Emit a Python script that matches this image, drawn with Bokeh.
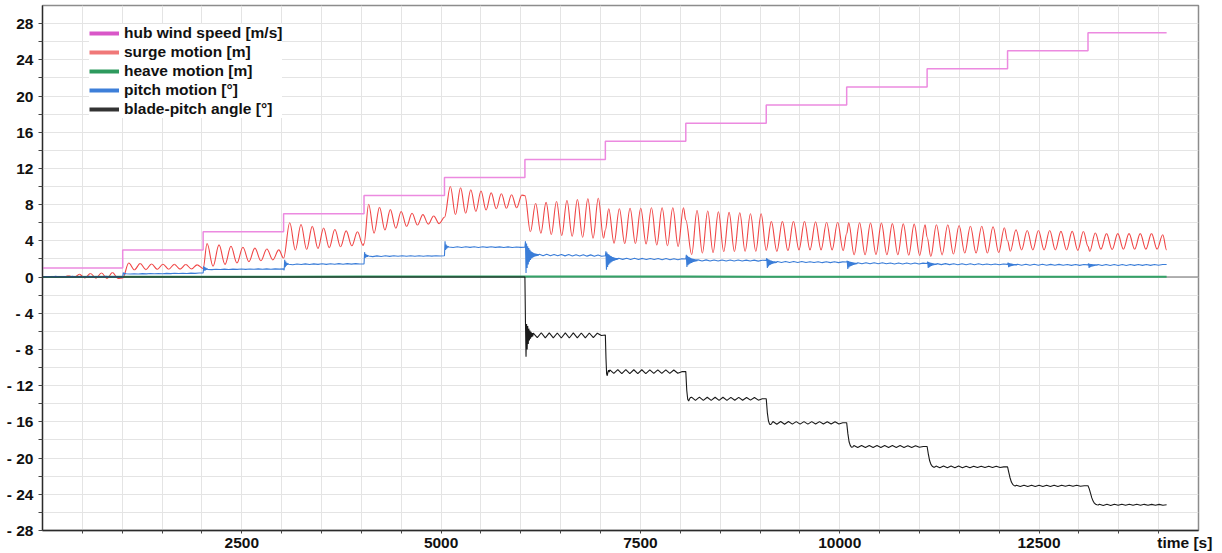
from bokeh.plotting import figure
from bokeh.models import Range1d, FixedTicker, Legend, LegendItem, Span
from bokeh.embed import file_html
from bokeh.resources import INLINE

# ---------------------------------------------------------------- data
# start time of each wind step [s] and the hub-height wind speed held in it
step_start = [0, 1006, 2015, 3024, 4033, 5042, 6051, 7060, 8069, 9078,
              10087, 11096, 12105, 13114]
t_final = 14100
hub_wind = [1, 3, 5, 7, 9, 11, 13, 15, 17, 19, 21, 23, 25, 27]

# heave motion [m], one value per wind step (practically zero)
heave = [0.0, 0.02, 0.03, 0.04, 0.05, 0.06, 0.06, 0.05, 0.05, 0.04,
         0.04, 0.04, 0.03, 0.03]

# surge motion [m]: value at the step, time of the first swing extreme,
# half swing period and the successive swing extremes in each step
surge_at_step = [0.0, -0.1, 0.95, 2.1, 3.7, 6.6, 9.0, 5.2, 6.3, 2.95,
                 4.8, 4.4, 4.0, 3.4]
surge_first = [188, 1082, 2064, 3101, 4091, 5116, 6120, 7102, 8143, 9142,
               10112, 11142, 12140, 13135]
surge_half = [69, 71.5, 75, 70.8, 68, 64, 65.5, 67, 67, 69.3,
              68.5, 71, 70.5, 70.5]
surge_swings = [
    [0.02, -0.03, 0.15, -0.05, 0.3, -0.1, 0.4, -0.12, 0.45, -0.15, 0.5, -0.15],
    [1.55, 0.8, 1.5, 0.82, 1.45, 0.85, 1.42, 0.87, 1.4, 0.88, 1.38, 0.9, 1.35],
    [3.7, 1.2, 3.55, 1.4, 3.4, 1.55, 3.3, 1.7, 3.2, 1.8, 3.1, 1.9, 3.0],
    [6.0, 3.0, 5.8, 3.05, 5.6, 3.15, 5.4, 3.25, 5.25, 3.35, 5.1, 3.45, 5.0, 3.5],
    [8.05, 4.85, 7.7, 5.2, 7.45, 5.4, 7.25, 5.6, 7.05, 5.75, 6.9, 5.85, 6.75, 5.9],
    [10.0, 6.9, 9.85, 7.05, 9.65, 7.25, 9.5, 7.4, 9.3, 7.55, 9.2, 7.6, 9.1, 7.65, 9.05],
    [5.0, 8.15, 4.85, 8.25, 4.7, 8.35, 4.6, 8.45, 4.5, 8.55, 4.4, 8.65, 4.3, 8.7, 4.3],
    [7.55, 3.75, 7.55, 3.7, 7.6, 3.7, 7.6, 3.65, 7.65, 3.55, 7.65, 3.45, 7.65, 3.38, 7.65],
    [2.5, 7.36, 2.65, 7.3, 2.7, 7.2, 2.8, 7.15, 2.83, 7.1, 2.85, 7.0, 2.85, 7.0],
    [6.15, 2.83, 6.15, 2.9, 6.15, 3.0, 6.15, 3.0, 6.1, 3.0, 6.05, 3.0, 6.05, 2.9],
    [6.0, 2.46, 6.0, 2.46, 5.96, 2.5, 5.96, 2.46, 5.9, 2.46, 5.88, 2.42, 5.85, 2.4, 5.78],
    [2.28, 5.78, 2.45, 5.78, 2.55, 5.7, 2.65, 5.62, 2.65, 5.62, 2.65, 5.55, 2.7, 5.45],
    [2.85, 5.22, 3.0, 5.15, 3.0, 5.15, 3.0, 5.15, 3.0, 5.05, 3.0, 5.05, 2.95, 5.04],
    [2.83, 4.86, 3.09, 4.8, 3.05, 4.8, 3.09, 4.8, 3.09, 4.8, 3.09, 4.8, 3.09, 4.67],
]
surge_final = 3.0

# pitch motion [deg]: fast transient right after each step (sample spacing
# pitch_burst_dt), then the slow ripple over the rest of the step
pitch_burst_dt = 7
pitch_burst = [
    [0.0],
    [0.0, 0.5, 0.3, 0.45, 0.32, 0.4],
    [0.45, 1.2, 0.7, 1.1, 0.75, 1.0, 0.8, 0.95],
    [0.9, 0.75, 1.9, 1.1, 1.7, 1.25, 1.55, 1.35, 1.5],
    [1.45, 2.75, 2.1, 2.55, 2.2, 2.45, 2.25, 2.4],
    [2.35, 3.95, 3.0, 3.6, 3.15, 3.45, 3.25, 3.38],
    [3.3, 3.95, 0.45, 3.7, 1.0, 3.4, 1.4, 3.2, 1.7, 3.0, 1.9, 2.85, 2.05, 2.75,
     2.15, 2.68, 2.22, 2.62, 2.28, 2.58, 2.32, 2.55, 2.35, 2.53, 2.38, 2.5],
    [2.35, 2.85, 0.8, 2.7, 1.1, 2.55, 1.35, 2.45, 1.5, 2.35, 1.62, 2.28, 1.7,
     2.22, 1.77, 2.17, 1.82, 2.13, 1.86, 2.1, 1.9, 2.08, 1.93, 2.06],
    [2.0, 2.45, 1.1, 2.35, 1.3, 2.25, 1.42, 2.17, 1.5, 2.1, 1.57, 2.05, 1.63,
     2.01, 1.68, 1.98, 1.72, 1.95, 1.75, 1.93, 1.78, 1.91],
    [1.84, 2.1, 1.0, 2.0, 1.18, 1.92, 1.3, 1.86, 1.38, 1.81, 1.44, 1.77, 1.49,
     1.74, 1.53, 1.72, 1.56, 1.7, 1.59, 1.69],
    [1.66, 1.8, 0.9, 1.78, 1.05, 1.72, 1.16, 1.68, 1.24, 1.64, 1.3, 1.61, 1.35,
     1.59, 1.39, 1.57, 1.42, 1.56, 1.44, 1.55],
    [1.5, 1.7, 1.0, 1.65, 1.1, 1.6, 1.18, 1.56, 1.24, 1.53, 1.29, 1.5, 1.32,
     1.48, 1.35, 1.47, 1.37, 1.46],
    [1.4, 1.6, 1.1, 1.55, 1.15, 1.5, 1.2, 1.47, 1.24, 1.45, 1.27, 1.43, 1.29,
     1.42, 1.31, 1.41, 1.32, 1.4],
    [1.35, 1.5, 1.0, 1.47, 1.08, 1.44, 1.14, 1.42, 1.19, 1.4, 1.22, 1.39, 1.25,
     1.38, 1.27, 1.37, 1.28, 1.37],
]
pitch_wave = [
    [0.0, 0.06, 0.0, 0.07, 0.01, 0.06, 0.0, 0.07, 0.01, 0.06, 0.0, 0.07, 0.01, 0.06, 0.0, 0.07, 0.01, 0.06, 0.02],
    [0.36, 0.33, 0.37, 0.34, 0.38, 0.35, 0.39, 0.36, 0.4, 0.37, 0.41, 0.38, 0.42, 0.39, 0.42, 0.4, 0.43, 0.41, 0.44],
    [0.85, 0.82, 0.87, 0.83, 0.88, 0.84, 0.88, 0.85, 0.89, 0.85, 0.89, 0.86, 0.9, 0.86, 0.9, 0.87, 0.9, 0.88],
    [1.42, 1.36, 1.45, 1.38, 1.46, 1.38, 1.46, 1.4, 1.47, 1.4, 1.47, 1.41, 1.48, 1.42, 1.48, 1.43, 1.48, 1.44],
    [2.32, 2.26, 2.34, 2.27, 2.35, 2.28, 2.35, 2.29, 2.36, 2.29, 2.36, 2.3, 2.36, 2.3, 2.36, 2.31, 2.36, 2.32],
    [3.32, 3.26, 3.34, 3.27, 3.35, 3.28, 3.34, 3.27, 3.34, 3.28, 3.34, 3.28, 3.33, 3.27, 3.33, 3.27, 3.32, 3.28],
    [2.52, 2.36, 2.52, 2.36, 2.5, 2.35, 2.5, 2.34, 2.48, 2.33, 2.47, 2.32, 2.46, 2.31, 2.45, 2.3, 2.44, 2.3],
    [2.08, 1.95, 2.08, 1.94, 2.07, 1.94, 2.06, 1.93, 2.05, 1.93, 2.04, 1.92, 2.04, 1.92, 2.03, 1.91, 2.02],
    [1.9, 1.78, 1.9, 1.78, 1.89, 1.78, 1.89, 1.77, 1.88, 1.77, 1.88, 1.77, 1.87, 1.77, 1.87, 1.76, 1.86],
    [1.72, 1.61, 1.72, 1.61, 1.71, 1.6, 1.71, 1.6, 1.7, 1.6, 1.7, 1.59, 1.69, 1.59, 1.69, 1.59, 1.68],
    [1.58, 1.47, 1.58, 1.46, 1.57, 1.46, 1.57, 1.46, 1.56, 1.45, 1.56, 1.45, 1.55, 1.45, 1.55, 1.44, 1.54],
    [1.48, 1.37, 1.48, 1.37, 1.47, 1.36, 1.47, 1.36, 1.46, 1.36, 1.46, 1.35, 1.45, 1.35, 1.45, 1.35, 1.44],
    [1.42, 1.31, 1.42, 1.31, 1.41, 1.3, 1.41, 1.3, 1.4, 1.3, 1.4, 1.3, 1.39, 1.29, 1.39, 1.29, 1.38],
    [1.39, 1.28, 1.39, 1.28, 1.38, 1.28, 1.38, 1.28, 1.38, 1.29, 1.38, 1.29, 1.38, 1.29, 1.38, 1.3, 1.38],
]
pitch_final = 1.38

# blade-pitch angle [deg]: transient after each step (per-step sample
# spacing), then the ripple over the rest of the step
blade_burst_dt = [10, 10, 10, 10, 10, 10, 7, 8, 12, 14, 15, 16, 16, 16]
blade_burst = [
    [0.0], [0.0], [0.0], [0.0], [0.0], [0.0],
    [0.0, -5.0, -8.8, -5.2, -8.0, -5.4, -7.4, -5.7, -7.0, -5.9, -6.8, -6.05, -6.65, -6.2, -6.55],
    [-6.4, -9.0, -10.7, -10.9, -10.5, -10.3, -10.5],
    [-10.45, -12.5, -13.5, -13.7, -13.45, -13.3],
    [-13.45, -15.0, -15.9, -16.25, -16.3, -16.15],
    [-16.1, -17.3, -18.2, -18.6, -18.8, -18.78],
    [-18.72, -19.6, -20.3, -20.7, -20.9, -21.0, -21.0],
    [-20.97, -21.6, -22.2, -22.65, -22.9, -23.02, -23.08],
    [-23.06, -23.4, -23.9, -24.4, -24.75, -24.98, -25.1, -25.16, -25.18],
]
blade_wave = [
    [0.0], [0.0], [0.0], [0.0], [0.0], [0.0],
    [-6.2, -6.7, -6.15, -6.72, -6.17, -6.72, -6.18, -6.73, -6.17, -6.73, -6.17, -6.72, -6.18, -6.72, -6.18, -6.7, -6.2, -6.45],
    [-10.25, -10.65, -10.22, -10.67, -10.23, -10.67, -10.24, -10.66, -10.24, -10.66, -10.25, -10.65, -10.25, -10.65, -10.26, -10.64, -10.27, -10.63, -10.45],
    [-13.27, -13.63, -13.27, -13.63, -13.28, -13.62, -13.28, -13.62, -13.28, -13.62, -13.29, -13.61, -13.29, -13.61, -13.3, -13.6, -13.3, -13.6, -13.45],
    [-15.96, -16.26, -15.96, -16.26, -15.96, -16.25, -15.97, -16.25, -15.97, -16.25, -15.97, -16.24, -15.97, -16.24, -15.98, -16.24, -15.98, -16.23, -16.1],
    [-18.61, -18.84, -18.61, -18.84, -18.61, -18.83, -18.62, -18.83, -18.62, -18.83, -18.62, -18.82, -18.62, -18.82, -18.63, -18.82, -18.63, -18.81, -18.72],
    [-20.88, -21.07, -20.88, -21.07, -20.88, -21.06, -20.88, -21.06, -20.89, -21.06, -20.89, -21.05, -20.89, -21.05, -20.89, -21.05, -20.9, -21.04, -20.97],
    [-22.99, -23.14, -22.99, -23.14, -22.99, -23.14, -22.99, -23.13, -23.0, -23.13, -23.0, -23.13, -23.0, -23.12, -23.0, -23.12, -23.01, -23.12, -23.06],
    [-25.1, -25.23, -25.1, -25.23, -25.1, -25.22, -25.1, -25.22, -25.1, -25.22, -25.11, -25.22, -25.11, -25.21, -25.11, -25.21, -25.11, -25.21],
]
blade_final = -25.16

y_ticks = list(range(-28, 29, 4))
x_ticks = [2500, 5000, 7500, 10000, 12500]
x_title = "time [s]"
x_title_at = 14328   # the axis title sits at the right end of the time axis


# ------------------------------------------------------- series assembly
def step_end(k):
    return step_start[k + 1] if k + 1 < len(step_start) else t_final


def swing_series(at_step, first, half, swings, final):
    t, v = [], []
    for k, s in enumerate(step_start):
        t.append(s)
        v.append(at_step[k])
        for i, val in enumerate(swings[k]):
            t.append(first[k] + i * half[k])
            v.append(val)
    t.append(t_final)
    v.append(final)
    return t, v


def burst_wave_series(burst, burst_dt, wave, final):
    t, v = [], []
    for k, s in enumerate(step_start):
        dt = burst_dt[k] if isinstance(burst_dt, list) else burst_dt
        for i, val in enumerate(burst[k]):
            t.append(s + i * dt)
            v.append(val)
        w0 = s + len(burst[k]) * dt
        dw = (step_end(k) - w0) / len(wave[k])
        for i, val in enumerate(wave[k]):
            t.append(w0 + i * dw)
            v.append(val)
    t.append(t_final)
    v.append(final)
    return t, v


surge_t, surge_v = swing_series(surge_at_step, surge_first, surge_half,
                                surge_swings, surge_final)
pitch_t, pitch_v = burst_wave_series(pitch_burst, pitch_burst_dt, pitch_wave,
                                     pitch_final)
blade_t, blade_v = burst_wave_series(blade_burst, blade_burst_dt, blade_wave,
                                     blade_final)
wind_t = step_start + [t_final]
wind_v = hub_wind + [hub_wind[-1]]
heave_t = step_start + [t_final]
heave_v = heave + [heave[-1]]

# surge drawn as smooth swings: one cubic piece between neighbouring extremes,
# flat (horizontal tangent) at both ends of each piece
K = 0.3642
sx0, sy0, sx1, sy1 = surge_t[:-1], surge_v[:-1], surge_t[1:], surge_v[1:]
scx0 = [a + K * (b - a) for a, b in zip(sx0, sx1)]
scx1 = [b - K * (b - a) for a, b in zip(sx0, sx1)]

# ------------------------------------------------------------- styling
FONT = "Liberation Sans"
C_WIND, C_WIND_KEY = "#ec8ae0", "#d957c8"
C_SURGE, C_SURGE_KEY = "#f04646", "#f07878"
C_HEAVE, C_HEAVE_KEY = "#34a368", "#2e9a5e"
C_PITCH, C_PITCH_KEY = "#3a7dd8", "#3d7fd9"
C_BLADE, C_BLADE_KEY = "#1a1a1a", "#333333"

p = figure(width=1222, height=553, output_backend="svg", toolbar_location=None,
           x_range=Range1d(0, 14500), y_range=Range1d(-28, 30),
           min_border_left=42, min_border_right=24, min_border_top=5,
           min_border_bottom=22)
p.background_fill_color = "white"
p.border_fill_color = "white"
p.outline_line_color = "#8c8c8c"
p.outline_line_width = 1.5

p.xgrid.ticker = FixedTicker(ticks=list(range(0, 14501, 500)))
p.ygrid.ticker = FixedTicker(ticks=list(range(-28, 31, 2)))
for g in (p.xgrid, p.ygrid):
    g.grid_line_color = "#e4e4e4"
    g.grid_line_width = 1

# x axis: tick marks every 500 s (drawn as minor ticks), numbers every 2500 s
p.xaxis.ticker = FixedTicker(ticks=x_ticks + [x_title_at],
                             minor_ticks=list(range(500, 14500, 500)))
x_labels = {v: str(v) for v in x_ticks}
x_labels[x_title_at] = x_title
p.xaxis.major_label_overrides = x_labels
p.yaxis.ticker = FixedTicker(ticks=y_ticks, minor_ticks=list(range(-26, 29, 4)))
p.yaxis.major_label_overrides = {v: (f"- {abs(v)}" if v < 0 else str(v)) for v in y_ticks}

for ax in (p.xaxis, p.yaxis):
    ax.axis_line_color = "#2a2a2a"
    ax.axis_line_width = 1.3
    ax.major_tick_line_color = "#444444"
    ax.minor_tick_line_color = "#444444"
    ax.major_tick_in = 0
    ax.minor_tick_in = 0
    ax.major_label_text_font = FONT
    ax.major_label_text_font_size = "15.5px"
    ax.major_label_text_font_style = "bold"
    ax.major_label_text_color = "#111111"
p.yaxis.major_tick_out = 4
p.yaxis.minor_tick_out = 4
p.yaxis.major_label_standoff = 5
p.xaxis.major_tick_line_color = None
p.xaxis.major_tick_out = 3
p.xaxis.minor_tick_out = 3
p.xaxis.major_label_standoff = 0

p.add_layout(Span(location=0, dimension="width", line_color="#9a9a9a",
                  line_width=1.5, level="underlay"))

# ---------------------------------------------------------------- curves
p.step(wind_t, wind_v, mode="after", line_color=C_WIND, line_width=1.5)
p.bezier(x0=sx0, y0=sy0, x1=sx1, y1=sy1, cx0=scx0, cy0=sy0, cx1=scx1, cy1=sy1,
         line_color=C_SURGE, line_width=1.1)
p.line(heave_t, heave_v, line_color=C_HEAVE, line_width=2)
p.line(pitch_t, pitch_v, line_color=C_PITCH, line_width=1.1)
p.line(blade_t, blade_v, line_color=C_BLADE, line_width=1.1)

# thick key lines for the legend (kept left of the visible time range)
keys = [("hub wind speed [m/s]", C_WIND_KEY),
        ("surge motion [m]", C_SURGE_KEY),
        ("heave motion [m]", C_HEAVE_KEY),
        ("pitch motion [°]", C_PITCH_KEY),
        ("blade-pitch angle [°]", C_BLADE_KEY)]
items = []
for name, col in keys:
    r = p.line([-3000, -2000], [0, 0], line_color=col, line_width=4)
    items.append(LegendItem(label=name, renderers=[r]))

legend = Legend(items=items, location=(47, 412), padding=0, spacing=1,
                margin=0, glyph_width=30, glyph_height=14, label_height=14,
                label_standoff=5, border_line_alpha=0,
                background_fill_color="white", background_fill_alpha=1.0,
                label_text_font=FONT, label_text_font_size="15.5px",
                label_text_font_style="bold", label_text_color="#111111")
p.add_layout(legend)

open("out.html", "w").write(file_html(p, INLINE))
